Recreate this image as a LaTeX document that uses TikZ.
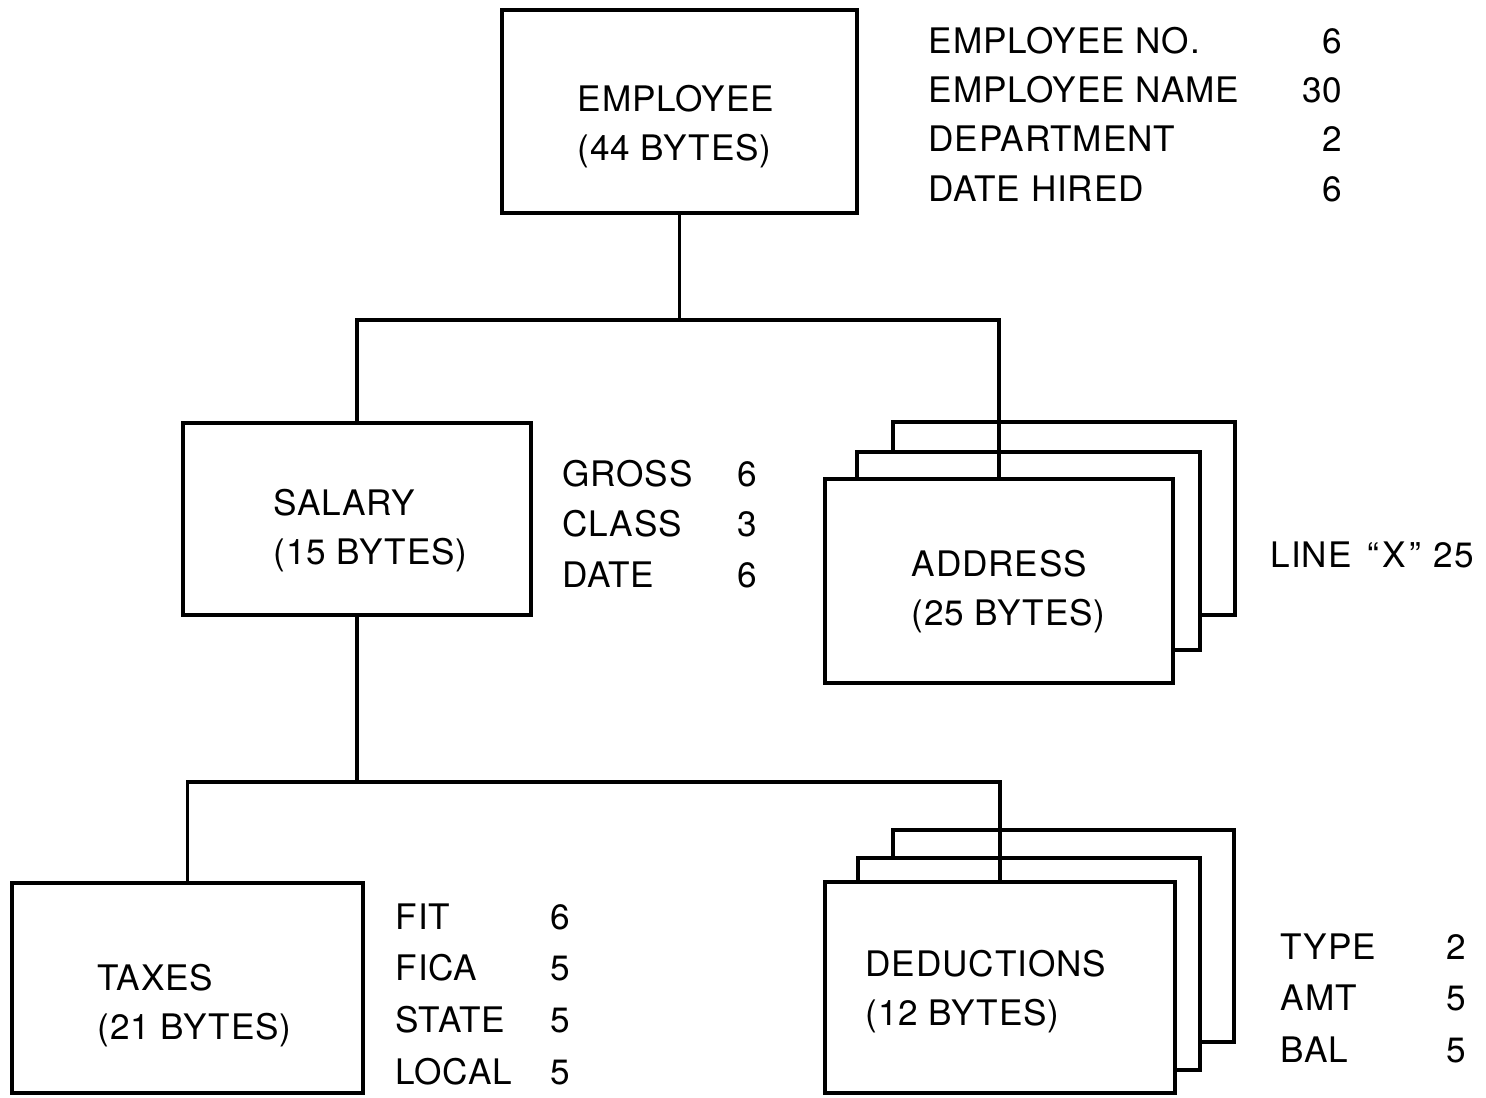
\documentclass[tikz,border=0pt]{standalone}
\usepackage{fontspec}
\setmainfont{TeX Gyre Heros}[LetterSpace=2.5]
\tikzset{
  rec/.style args = {#1/#2}{draw, fill=white, line width=0.9pt,
                            minimum width=#1*0.01cm, minimum height=#2*0.01cm,
                            inner sep=0pt},
  lbl/.style = {anchor=west, align=left, inner sep=0pt},
  fld/.style = {anchor=base west, inner sep=0pt},
  val/.style = {anchor=base east, inner sep=0pt},
  link/.style = {line width=0.9pt}
}

\begin{document}
\begin{tikzpicture}[x=0.01cm, y=-0.01cm, font=\fontsize{10}{14.2}\selectfont]
  \useasboundingbox (0,0) rectangle (1486,1097);
  \def\flist#1#2#3#4#5#6{%
    \foreach \fl/\fv [count=\i] in {#6}{
      \node[fld] (#1l\i) at (#2,{#4+#5*(\i-1)}) {\fl};
      \node[val] (#1v\i) at (#3,{#4+#5*(\i-1)}) {\fv};
    }}
  % records
  \node[rec=355/203] (emp) at (679.5,111.5) {};
  \node[rec=348/192] (sal) at (357,519) {};
  \node[rec=351/210] (tax) at (187.5,988) {};
  \node[rec=342/193] (adrb) at (1064,518.5) {};
  \node[rec=343/198] (adrm) at (1028.5,551) {};
  \node[rec=348/204] (adr) at (999,581) {};
  \node[rec=341/212] (dedb) at (1063.5,936) {};
  \node[rec=342/212] (dedm) at (1029,964) {};
  \node[rec=350/211] (ded) at (1000,987.5) {};
  % links
  \coordinate (bus1) at (emp.south |- 0,320);
  \coordinate (bus2) at (sal.south |- 0,782);
  \draw[link] (emp.south) -- (bus1);
  \draw[link] (sal.north) |- (bus1) -| (adr.north);
  \draw[link] (sal.south) -- (bus2);
  \draw[link] (tax.north) |- (bus2) -| (ded.north);
  % texts
  \node[lbl] (empt) at (577,126.6) {EMPLOYEE\\(44 BYTES)};
  \node[lbl] (salt) at (273,530.6) {SALARY\\(15 BYTES)};
  \node[lbl] (adrt) at (911,591.6) {ADDRESS\\(25 BYTES)};
  \node[lbl] (taxt) at (97,1005.6) {TAXES\\(21 BYTES)};
  \node[lbl] (dedt) at (865,991.6) {DEDUCTIONS\\(12 BYTES)};
  \flist{e}{928}{1343}{54}{49}{EMPLOYEE NO./6, EMPLOYEE NAME/30, DEPARTMENT/2, DATE HIRED/6}
  \flist{s}{562}{758}{486}{50.5}{GROSS/6, CLASS/3, DATE/6}
  \flist{t}{395}{571}{929}{51.7}{FIT/6, FICA/5, STATE/5, LOCAL/5}
  \flist{d}{1280}{1467}{959}{51.5}{TYPE/2, AMT/5, BAL/5}
  \node[fld] (linex) at (1270,567) {LINE\kern1.5pt{} “\kern1pt X\kern1pt”\kern0.5pt{} 25};
\end{tikzpicture}
\end{document}
